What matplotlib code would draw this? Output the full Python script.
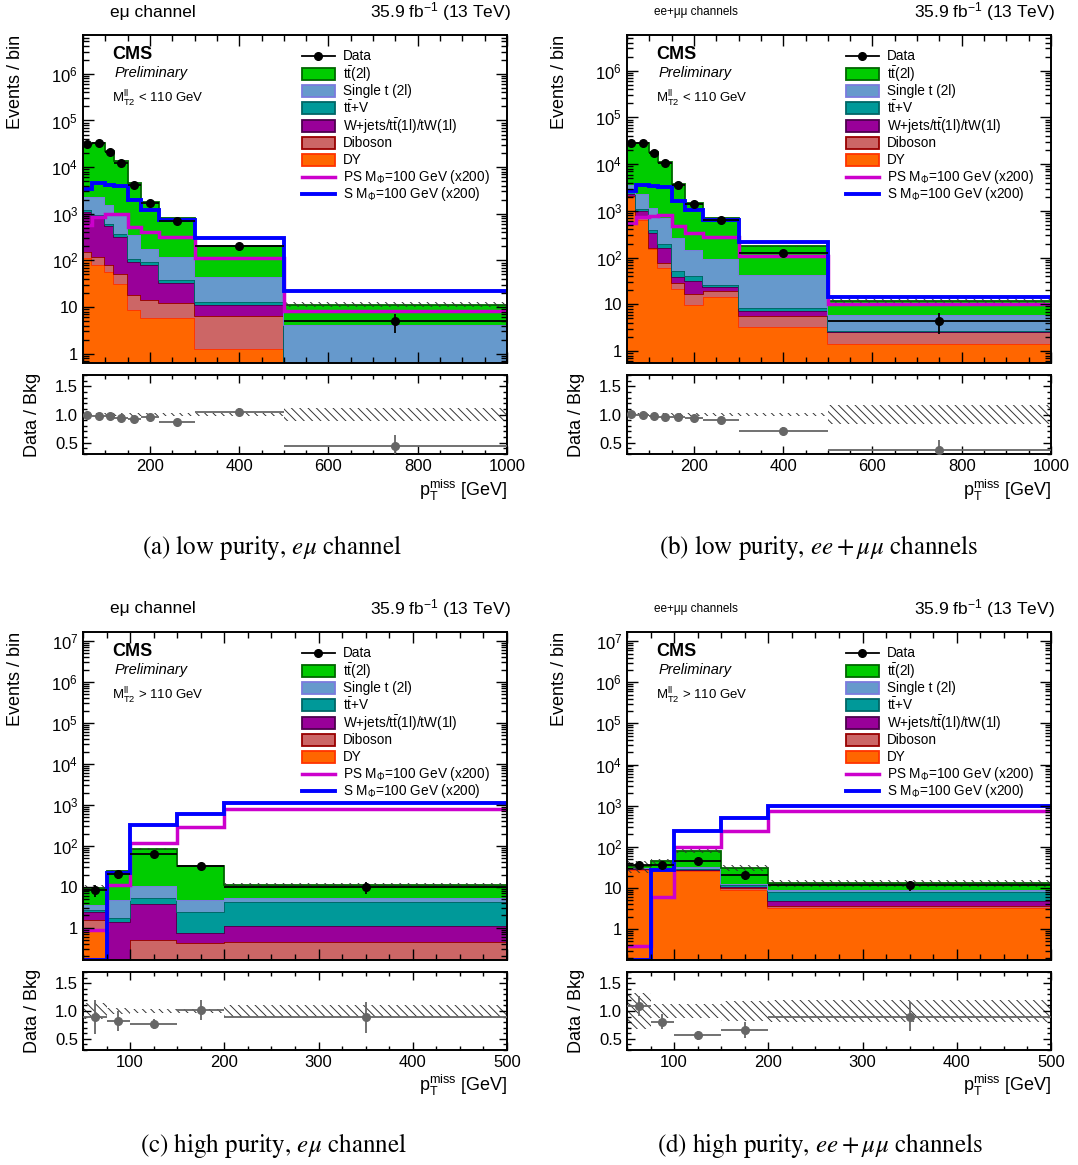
import numpy as np
import matplotlib
matplotlib.use('Agg')
import matplotlib.pyplot as plt
from matplotlib.patches import Rectangle
from matplotlib.lines import Line2D
from matplotlib.ticker import MultipleLocator, LogLocator, FuncFormatter, NullFormatter, FixedLocator

plt.rcParams['font.family'] = ['Liberation Sans', 'DejaVu Sans']
plt.rcParams['mathtext.fontset'] = 'custom'
plt.rcParams['mathtext.rm'] = 'Liberation Sans'
plt.rcParams['mathtext.it'] = 'Liberation Sans:italic'
plt.rcParams['mathtext.bf'] = 'Liberation Sans:bold'
plt.rcParams['hatch.linewidth'] = 0.7

# binning (GeV)
edges_low = [50, 70, 100, 120, 150, 180, 220, 300, 500, 1000]
edges_high = [50, 75, 100, 150, 200, 500]

# (a) low purity, e mu
a_dy = [112, 78, 56, 31.6, 8.5, 5.9, 5.9, 1.28, 0.05]
a_vv = [38, 40, 22, 20.4, 9.5, 8.5, 6.3, 5.1, 0.3]
a_wj = [940, 697, 467, 264, 74, 64, 21, 4.6, 0.05]
a_ttv = [90, 105, 65, 46, 17, 14, 5.6, 2.0, 0.2]
a_st = [1100, 1420, 900, 558, 236, 86, 79, 31, 3.6]
a_tt = [28720, 31160, 20290, 12280, 4105, 1572, 692, 156, 7.1]
a_data = [31000, 32800, 21150, 12400, 4090, 1660, 705, 208, 5.0]
a_unc = [0.02, 0.02, 0.02, 0.02, 0.02, 0.02, 0.025, 0.03, 0.12]
a_ps = [580, 870, 975, 1000, 520, 405, 316, 114, 8.4]
a_s = [3450, 4550, 4170, 3870, 1990, 1180, 750, 306, 21.8]

# (b) low purity, ee + mumu
b_dy = [1960, 650, 150, 61, 21, 9.8, 14.5, 3.2, 1.43]
b_vv = [80, 40, 13, 17, 7, 6.8, 5.1, 2.5, 1.07]
b_wj = [260, 290, 177, 80, 9.6, 14.4, 3.4, 1.6, 0.05]
b_ttv = [330, 90, 40, 34, 14.4, 10, 3, 1.1, 0.15]
b_st = [1000, 1230, 780, 498, 205, 102, 66, 34.6, 3.3]
b_tt = [24370, 25700, 16840, 10210, 3483, 1337, 598, 133, 6.0]
b_data = [28300, 27700, 17640, 10360, 3550, 1376, 628, 125, 4.4]
b_unc = [0.02, 0.02, 0.02, 0.02, 0.02, 0.02, 0.02, 0.03, 0.17]
b_ps = [555, 735, 770, 810, 470, 340, 275, 109, 10.2]
b_s = [2700, 3630, 3470, 3200, 1600, 1020, 650, 215, 14.7]

# (c) high purity, e mu
c_dy = [0.91, 0, 0, 0, 0]
c_vv = [0.62, 0.05, 0.5, 0.42, 0.46]
c_wj = [0.92, 1.35, 3.26, 0.31, 0.64]
c_ttv = [0.35, 0.35, 1.44, 1.72, 3.2]
c_st = [0.75, 2.95, 5.1, 2.25, 0.9]
c_tt = [5.95, 20.3, 73.7, 26.9, 6.1]
c_data = [8.4, 20.5, 64.5, 32.2, 10.0]
c_unc = [0.15, 0.06, 0.03, 0.04, 0.10]
c_ps = [0.9, 10.9, 116, 290, 795]
c_s = [0.165, 21.7, 330, 590, 1090]

# (d) high purity, ee + mumu
d_dy = [28, 28, 25.5, 8.9, 3.2]
d_vv = [0.8, 0.5, 1.5, 0.8, 0.5]
d_wj = [0.2, 0.3, 0.5, 0.6, 1.1]
d_ttv = [1.0, 0.8, 2.0, 1.2, 3.3]
d_st = [0.7, 1.2, 3.0, 0.9, 0.8]
d_tt = [3.3, 13.6, 48.5, 18.6, 4.0]
d_data = [37, 36, 45.5, 20.5, 11.6]
d_unc = [0.32, 0.12, 0.12, 0.18, 0.20]
d_ps = [0.39, 6.1, 100, 240, 750]
d_s = [0.18, 28, 240, 490, 1000]

labels = [r't$\bar{\mathrm{t}}$(2l)', 'Single t (2l)', r't$\bar{\mathrm{t}}$+V',
          r'W+jets/t$\bar{\mathrm{t}}$(1l)/tW(1l)', 'Diboson', 'DY']
fills = ['#00cc00', '#6699cc', '#009999', '#990099', '#cc6666', '#ff6600']
lines = ['#006600', '#7b7bdd', '#006666', '#4d004d', '#990000', '#ff3300']

W, H = 1078, 1165
fig = plt.figure(figsize=(W / 100, H / 100), dpi=100)


def fr(l, t, r, b):
    return [l / W, 1 - b / H, (r - l) / W, (b - t) / H]


def pow_fmt(v, pos):
    e = int(round(np.log10(v)))
    if e == 0:
        return '1'
    if e == 1:
        return '10'
    return r'$10^{%d}$' % e


def style(ax):
    ax.tick_params(which='both', direction='in', top=True, right=True, labelsize=12)
    ax.tick_params(which='major', length=8, width=1)
    ax.tick_params(which='minor', length=4, width=1, labelleft=False, labelbottom=False)
    for sp in ax.spines.values():
        sp.set_linewidth(1.4)


def panel(box, rbox, edges, comps, data, unc, ps, s, ylim, xmaj, xmin_, cut, chan, chan_size):
    ax = fig.add_axes(fr(*box))
    rax = fig.add_axes(fr(*rbox))
    edges = np.asarray(edges, float)
    cen = 0.5 * (edges[1:] + edges[:-1])
    hw = 0.5 * (edges[1:] - edges[:-1])
    base = np.full(len(cen), 1e-4)
    # stack from the bottom: DY, diboson, W+jets, ttV, single t, tt
    for vals, fc, ec in zip(comps[::-1], fills[::-1], lines[::-1]):
        top = base + np.asarray(vals, float)
        ax.stairs(top, edges, baseline=base, fill=True, facecolor=fc, edgecolor='none', lw=0)
        ax.stairs(top, edges, baseline=None, color=ec, lw=1.3)
        base = top
    tot = base
    unc = np.asarray(unc)
    ax.stairs(tot * (1 + unc), edges, baseline=tot * (1 - unc), fill=True,
              facecolor='none', edgecolor='#333333', hatch='\\\\\\\\', lw=0)
    ax.stairs(ps, edges, baseline=None, color='#cc00cc', lw=2.5)
    ax.stairs(s, edges, baseline=None, color='#0000ff', lw=2.8)
    data = np.asarray(data, float)
    ax.errorbar(cen, data, xerr=hw, yerr=np.sqrt(data), fmt='o', color='k',
                ms=5.5, lw=1.3, capsize=0, zorder=10)
    ax.set_yscale('log')
    ax.set_ylim(*ylim)
    ax.set_xlim(edges[0], edges[-1])
    # only the decades inside the range get a label
    e0 = int(np.ceil(np.log10(ylim[0])))
    e1 = int(np.floor(np.log10(ylim[1])))
    ax.yaxis.set_major_locator(FixedLocator([10.0 ** e for e in range(e0, e1 + 1)]))
    ax.yaxis.set_major_formatter(FuncFormatter(pow_fmt))
    minors = [m * 10.0 ** e for e in range(e0 - 1, e1 + 1) for m in range(2, 10)]
    minors = [v for v in minors if ylim[0] < v < ylim[1]]
    ax.yaxis.set_minor_locator(FixedLocator(minors))
    ax.yaxis.set_minor_formatter(NullFormatter())
    ax.xaxis.set_major_locator(MultipleLocator(xmaj))
    ax.xaxis.set_minor_locator(MultipleLocator(xmin_))
    style(ax)
    ax.tick_params(labelbottom=False)
    ax.text(-0.16, 1.0, 'Events / bin', transform=ax.transAxes, rotation=90,
            ha='center', va='top', fontsize=13)

    # ratio
    r = data / tot
    re = np.sqrt(data) / tot
    rax.stairs(1 + unc, edges, baseline=1 - unc, fill=True, facecolor='none',
               edgecolor='#333333', hatch='\\\\\\\\', lw=0)
    rax.errorbar(cen, r, xerr=hw, yerr=re, fmt='o', color='#666666', ms=5.5,
                 lw=1.3, capsize=0, zorder=10)
    rax.set_xlim(edges[0], edges[-1])
    rax.set_ylim(0.3, 1.7)
    rax.yaxis.set_major_locator(FixedLocator([0.5, 1.0, 1.5]))
    rax.yaxis.set_major_formatter(FuncFormatter(lambda v, p: '%.1f' % v))
    rax.yaxis.set_minor_locator(MultipleLocator(0.1))
    rax.xaxis.set_major_locator(MultipleLocator(xmaj))
    rax.xaxis.set_minor_locator(MultipleLocator(xmin_))
    style(rax)
    rax.tick_params(which='major', length=6)
    rax.tick_params(which='minor', length=3)
    rax.text(-0.118, 0.5, 'Data / Bkg', transform=rax.transAxes, rotation=90,
             ha='center', va='center', fontsize=13)
    rax.text(1.0, -0.46, r'p$_{\mathrm{T}}^{\mathrm{miss}}$ [GeV]', transform=rax.transAxes,
             ha='right', va='center', fontsize=13)

    # labels inside
    ax.text(0.068, 0.942, 'CMS', transform=ax.transAxes, fontsize=13, fontweight='bold', va='center')
    ax.text(0.075, 0.885, 'Preliminary', transform=ax.transAxes, fontsize=10.5, style='italic', va='center')
    ax.text(0.068, 0.806, r'M$_{\mathrm{T2}}^{\mathrm{ll}}$ ' + cut, transform=ax.transAxes,
            fontsize=9.5, va='center')
    ax.text(0.064, 1.0 + 23 / 328, chan, transform=ax.transAxes, fontsize=chan_size, va='center')
    ax.text(1.01, 1.0 + 23 / 328, r'35.9 fb$^{-1}$ (13 TeV)', transform=ax.transAxes,
            fontsize=12.5, va='center', ha='right')

    # legend
    ys = [0.936, 0.881, 0.829, 0.777, 0.723, 0.671, 0.619, 0.567, 0.515]
    x0, x1, xt = 0.516, 0.594, 0.613
    ax.add_line(Line2D([x0, x1], [ys[0]] * 2, color='k', lw=1.3, transform=ax.transAxes))
    ax.add_line(Line2D([0.5 * (x0 + x1)], [ys[0]], marker='o', ms=5.5, color='k',
                       transform=ax.transAxes))
    ax.text(xt, ys[0], 'Data', transform=ax.transAxes, fontsize=9.8, va='center')
    for i, (lab, fc, ec) in enumerate(zip(labels, fills, lines)):
        y = ys[i + 1]
        ax.add_patch(Rectangle((x0, y - 0.019), x1 - x0, 0.038, transform=ax.transAxes,
                               facecolor=fc, edgecolor=ec, lw=1.3))
        ax.text(xt, y, lab, transform=ax.transAxes, fontsize=9.8, va='center')
    ax.add_line(Line2D([x0, x1], [ys[7]] * 2, color='#cc00cc', lw=2.5, transform=ax.transAxes))
    ax.text(xt, ys[7], r'PS M$_{\Phi}$=100 GeV (x200)', transform=ax.transAxes, fontsize=9.8, va='center')
    ax.add_line(Line2D([x0, x1], [ys[8]] * 2, color='#0000ff', lw=2.8, transform=ax.transAxes))
    ax.text(xt, ys[8], r'S M$_{\Phi}$=100 GeV (x200)', transform=ax.transAxes, fontsize=9.8, va='center')
    return ax, rax


panel((83, 35, 507, 363), (83, 375, 507, 454), edges_low,
      [a_tt, a_st, a_ttv, a_wj, a_vv, a_dy], a_data, a_unc, a_ps, a_s,
      (0.63, 6.8e6), 200, 50, '< 110 GeV', 'eμ channel', 12.5)
panel((627, 35, 1051, 363), (627, 375, 1051, 454), edges_low,
      [b_tt, b_st, b_ttv, b_wj, b_vv, b_dy], b_data, b_unc, b_ps, b_s,
      (0.555, 5.8e6), 200, 50, '< 110 GeV', 'ee+μμ channels', 8.5)
panel((83, 632, 507, 960), (83, 972, 507, 1050), edges_high,
      [c_tt, c_st, c_ttv, c_wj, c_vv, c_dy], c_data, c_unc, c_ps, c_s,
      (0.164, 1.66e7), 100, 25, '> 110 GeV', 'eμ channel', 12.5)
panel((627, 632, 1051, 960), (627, 972, 1051, 1050), edges_high,
      [d_tt, d_st, d_ttv, d_wj, d_vv, d_dy], d_data, d_unc, d_ps, d_s,
      (0.177, 1.67e7), 100, 25, '> 110 GeV', 'ee+μμ channels', 8.5)

caps = [(272, 548, r'(a) low purity, $e\mu$ channel'),
        (818, 548, r'(b) low purity, $ee + \mu\mu$ channels'),
        (273, 1145, r'(c) high purity, $e\mu$ channel'),
        (820, 1145, r'(d) high purity, $ee + \mu\mu$ channels')]
for x, y, t in caps:
    fig.text(x / W, 1 - y / H, t, ha='center', va='center', fontsize=18,
             family='STIXGeneral', math_fontfamily='stix')

fig.savefig('out.png', dpi=100)
